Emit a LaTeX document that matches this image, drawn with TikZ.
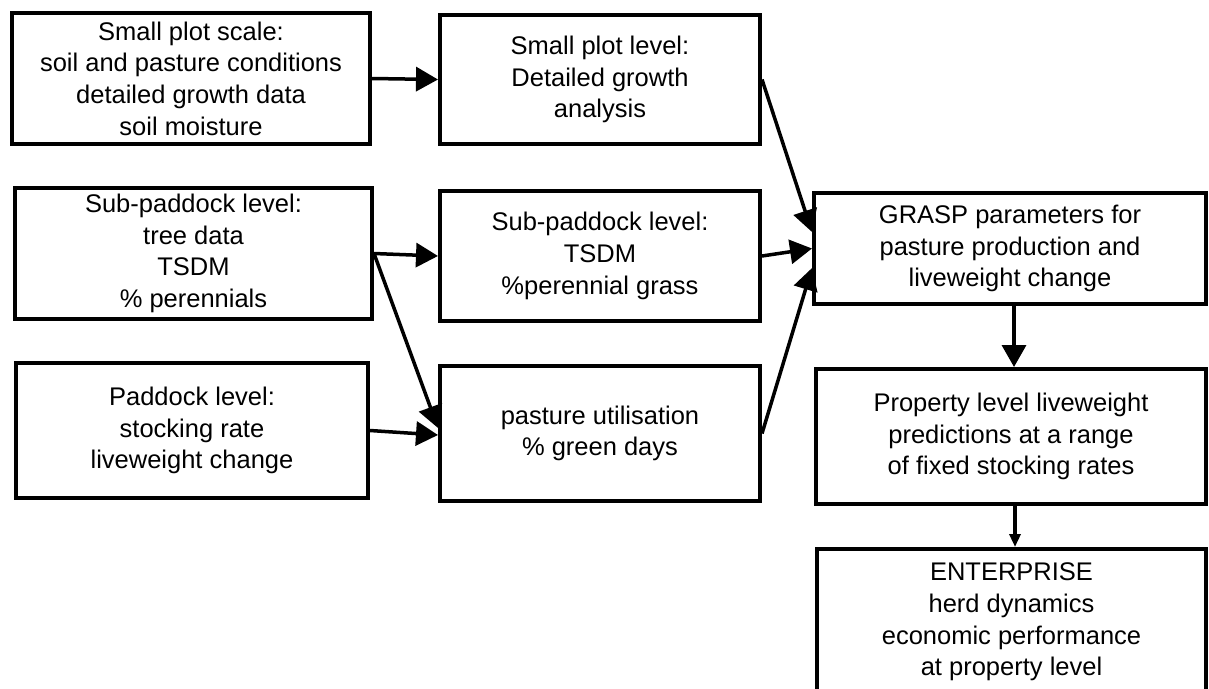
\documentclass[tikz,border=0pt]{standalone}
\usepackage{fontspec}
\setmainfont{Liberation Sans}
\usetikzlibrary{arrows.meta}
\begin{document}
\begin{tikzpicture}[x=1pt,y=-1pt,
  box/.style={draw=black,line width=4pt,rectangle,inner sep=0pt,align=center,
    font=\fontsize{25.5}{31.6}\selectfont},
  conn/.style={draw=black,line width=3.5pt,-{Triangle[length=22pt,width=24pt]}},
  connsmall/.style={draw=black,line width=3.5pt,-{Triangle[length=13pt,width=11pt]}}]
\useasboundingbox (0,0) rectangle (1209,688);
\clip (0,0) rectangle (1209,688);
\node[box,minimum width=358pt,minimum height=131pt] (A) at (191,78.5)
  {Small plot scale:\\soil and pasture conditions\\detailed growth data\\soil moisture};
\node[box,minimum width=320pt,minimum height=129pt] (B) at (600,79.5)
  {Small plot level:\\Detailed growth\\analysis};
\node[box,minimum width=357pt,minimum height=131pt] (C) at (193.5,253.5)
  {Sub-paddock level:\\tree data\\TSDM\\\% perennials};
\node[box,minimum width=320pt,minimum height=130pt] (D) at (600,256)
  {Sub-paddock level:\\TSDM\\\%perennial grass};
\node[box,minimum width=352pt,minimum height=135pt] (E) at (192,430.5)
  {Paddock level:\\stocking rate\\liveweight change};
\node[box,minimum width=320pt,minimum height=135pt] (F) at (600,433.5)
  {pasture utilisation\\\% green days};
\node[box,minimum width=392pt,minimum height=111pt] (G) at (1010,248.5)
  {GRASP parameters for\\pasture production and\\liveweight change};
\node[box,minimum width=390pt,minimum height=135pt] (H) at (1011,436.5)
  {Property level liveweight\\predictions at a range\\of fixed stocking rates};
\node[box,minimum width=389pt,minimum height=146pt] (I) at (1011.5,622)
  {ENTERPRISE\\herd dynamics\\economic performance\\at property level};
\draw[conn] (A.east) -- (B.west);
\draw[conn] (C.east) -- (D.west);
\draw[conn] (C.east) -- ([yshift=5.5pt]F.west);
\draw[conn] (E.east) -- ([yshift=-1.5pt]F.west);
\draw[conn] (B.east) -- ([yshift=16.5pt]G.west);
\draw[conn] (D.east) -- (G.west);
\draw[conn] (F.east) -- ([yshift=-19.5pt]G.west);
\draw[conn] ([xshift=4pt]G.south) -- ([xshift=4pt]G.south |- H.north);
\draw[connsmall] ([xshift=4pt]H.south) -- ([xshift=4pt]H.south |- I.north);
\end{tikzpicture}
\end{document}
